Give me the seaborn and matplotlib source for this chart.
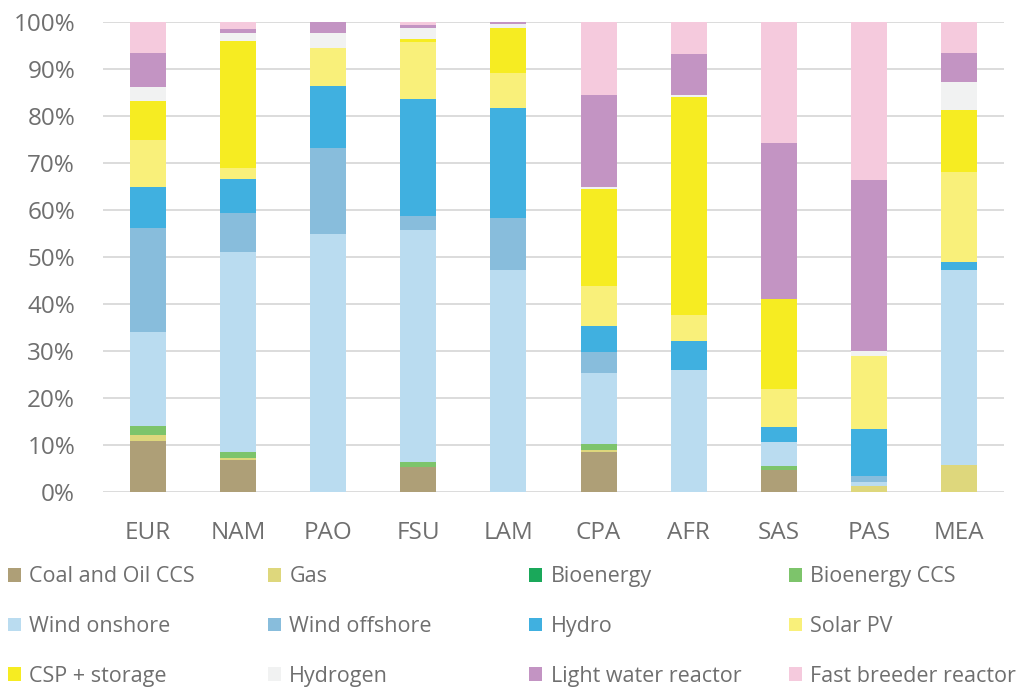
import pandas as pd
import numpy as np
import matplotlib
matplotlib.use("Agg")
import matplotlib.pyplot as plt
from matplotlib.patches import Patch
import seaborn as sns

# ============================================================
# DATA (share of electricity generation, %)
# ============================================================

regions = ["EUR", "NAM", "PAO", "FSU", "LAM", "CPA", "AFR", "SAS", "PAS", "MEA"]

sources = [
    "Coal and Oil CCS", "Gas", "Bioenergy", "Bioenergy CCS",
    "Wind onshore", "Wind offshore", "Hydro", "Solar PV",
    "CSP + storage", "Hydrogen", "Light water reactor", "Fast breeder reactor",
]

coal_oil_ccs = [10.8, 6.9, 0.0, 5.3, 0.0, 8.4, 0.0, 4.6, 0.0, 0.0]
gas          = [1.3, 0.4, 0.0, 0.0, 0.0, 0.5, 0.0, 0.0, 1.2, 5.7]
bioenergy    = [0.0, 0.0, 0.0, 0.0, 0.0, 0.0, 0.0, 0.0, 0.0, 0.0]
bio_ccs      = [2.0, 1.1, 0.0, 1.0, 0.0, 1.3, 0.0, 0.9, 0.0, 0.0]
wind_on      = [20.0, 42.7, 54.8, 49.4, 47.2, 15.1, 26.0, 5.1, 0.9, 41.6]
wind_off     = [22.0, 8.3, 18.4, 3.1, 11.2, 4.5, 0.0, 0.0, 1.2, 0.0]
hydro        = [8.7, 7.1, 13.1, 24.9, 23.4, 5.6, 6.2, 3.2, 10.2, 1.6]
solar_pv     = [10.1, 2.4, 8.2, 12.0, 7.4, 8.5, 5.4, 8.2, 15.4, 19.1]
csp          = [8.2, 27.0, 0.0, 0.7, 9.5, 20.5, 46.4, 19.1, 0.0, 13.2]
hydrogen     = [3.0, 1.8, 3.2, 2.4, 0.8, 0.5, 0.4, 0.0, 1.2, 6.0]
lwr          = [7.4, 0.9, 2.3, 0.5, 0.5, 19.5, 8.7, 33.2, 36.2, 6.2]
fbr          = [6.5, 1.4, 0.0, 0.7, 0.0, 15.6, 6.9, 25.7, 33.7, 6.6]

series = [coal_oil_ccs, gas, bioenergy, bio_ccs, wind_on, wind_off,
          hydro, solar_pv, csp, hydrogen, lwr, fbr]

colors = [
    "#ae9f77", "#ded77c", "#1aa85a", "#7dc46b",
    "#badcf0", "#88bddc", "#40b0e0", "#f9f07a",
    "#f6ec22", "#f1f2f2", "#c394c3", "#f5cadd",
]

# ============================================================
# LONG FORMAT
# ============================================================

rows = []
for src, vals in zip(sources, series):
    for reg, v in zip(regions, vals):
        rows.append({"region": reg, "source": src, "share": v})
df = pd.DataFrame(rows)
df["region"] = pd.Categorical(df["region"], categories=regions, ordered=True)

palette = dict(zip(sources, colors))

# ============================================================
# PLOT
# ============================================================

sns.set_theme(style="white")
plt.rcParams["font.family"] = ["Open Sans", "DejaVu Sans"]

fig = plt.figure(figsize=(10.34, 6.89), dpi=100)
ax = fig.add_axes([0.0996, 0.286, 0.8714, 0.682])

sns.histplot(
    data=df,
    x="region",
    hue="source",
    weights="share",
    hue_order=sources[::-1],
    palette=palette,
    multiple="stack",
    discrete=True,
    shrink=0.4,
    linewidth=0,
    alpha=1,
    legend=False,
    ax=ax,
)

ax.set_ylim(0, 100)
ax.set_xlim(-0.5, len(regions) - 0.5)
ax.set_yticks(np.arange(0, 101, 10))
ax.set_yticklabels([f"{t}%" for t in range(0, 101, 10)])
ax.set_xticks(range(len(regions)))
ax.set_xticklabels(regions)
ax.set_xlabel("")
ax.set_ylabel("")

ax.yaxis.grid(True, color="#d9d9d9", linewidth=1.3)
ax.set_axisbelow(True)
for s in ax.spines.values():
    s.set_visible(False)

ax.tick_params(axis="y", length=0, pad=20, labelsize=17.5, labelcolor="#6f6f6f")
ax.tick_params(axis="x", length=0, pad=21, labelsize=17.5, labelcolor="#6f6f6f")

# ============================================================
# LEGEND (4 equal-width columns, row-major order)
# ============================================================

col_x = [0.0075, 0.259, 0.512, 0.763]
for j in range(4):
    idx = [j, j + 4, j + 8]
    handles = [Patch(facecolor=colors[i], edgecolor="none") for i in idx]
    labels = [sources[i] for i in idx]
    leg = fig.legend(
        handles, labels,
        loc="upper left",
        bbox_to_anchor=(col_x[j], 0.178),
        frameon=False,
        fontsize=15.5,
        labelcolor="#6f6f6f",
        handlelength=0.6,
        handleheight=0.6,
        handletextpad=0.4,
        labelspacing=1.33,
        borderpad=0,
        borderaxespad=0,
    )

fig.savefig("out.png", dpi=100)
